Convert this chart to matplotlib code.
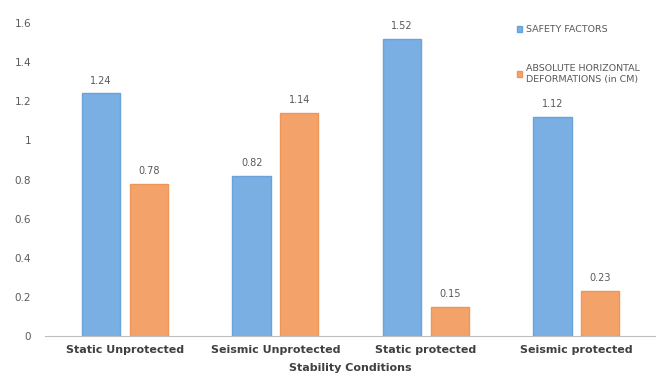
import matplotlib.pyplot as plt
import numpy as np

# Data
conditions = ['Static Unprotected', 'Seismic Unprotected', 'Static protected', 'Seismic protected']
safety_factors = [1.24, 0.82, 1.52, 1.12]
deformations = [0.78, 1.14, 0.15, 0.23]
series_names = ['SAFETY FACTORS', 'ABSOLUTE HORIZONTAL\nDEFORMATIONS (in CM)']

blue = '#7AAFE4'
blue_edge = '#6AA3DB'
orange = '#F3A36A'
orange_edge = '#EE9658'
gray = '#595959'

fig = plt.figure(figsize=(6.64, 3.9), dpi=100)
ax = fig.add_axes([0.068, 0.138, 0.918, 0.803])

x = np.arange(len(conditions))
w = 0.255
off = 0.158
b1 = ax.bar(x - off, safety_factors, w, color=blue, edgecolor=blue_edge, linewidth=1.0, label=series_names[0])
b2 = ax.bar(x + off, deformations, w, color=orange, edgecolor=orange_edge, linewidth=1.0, label=series_names[1])

for bars, vals in [(b1, safety_factors), (b2, deformations)]:
    for r, v in zip(bars, vals):
        ax.text(r.get_x() + r.get_width() / 2, v + 0.04, f'{v:g}', ha='center', va='bottom',
                fontsize=7, color=gray)

ax.set_xlim(-0.53, 3.52)
ax.set_ylim(0, 1.6)
ax.set_yticks(np.arange(0, 1.61, 0.2))
ax.set_yticklabels(['0', '0.2', '0.4', '0.6', '0.8', '1', '1.2', '1.4', '1.6'])
ax.set_xticks(x)
ax.set_xticklabels(conditions, fontsize=8, fontweight='bold', color='#404040')
ax.set_xlabel('Stability Conditions', fontsize=8, fontweight='bold', color='#404040', labelpad=6)

ax.tick_params(axis='y', length=0, labelsize=7.5, labelcolor=gray, pad=10)
ax.tick_params(axis='x', length=0, pad=6)
for s in ['top', 'right', 'left']:
    ax.spines[s].set_visible(False)
ax.spines['bottom'].set_color('#BFBFBF')

leg = ax.legend(loc='upper right', bbox_to_anchor=(0.99, 1.02), frameon=False, fontsize=6.8,
                handlelength=0.6, handleheight=0.6, handletextpad=0.4, labelspacing=3.2,
                labelcolor=gray)

fig.savefig('out.png', dpi=100)
